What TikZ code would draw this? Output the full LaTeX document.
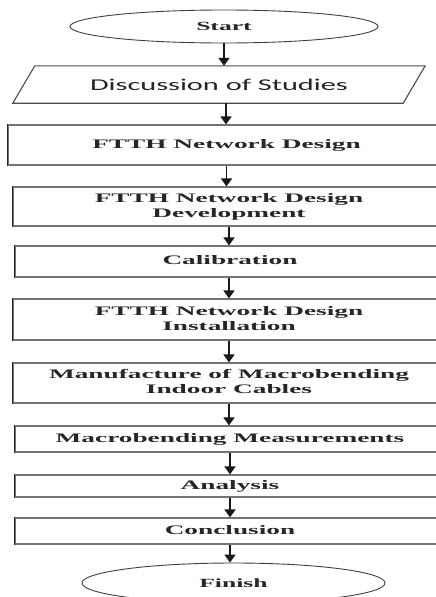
\documentclass[tikz,border=0pt]{standalone}
\usepackage{fontspec}
\usepackage{graphicx}
\setmainfont{Liberation Serif}
\newfontfamily\discfont{Carlito}
\usetikzlibrary{arrows.meta,shapes.geometric}
\newcommand\wt[1]{\scalebox{2.1}[1]{\fontsize{13}{15}\selectfont\bfseries\begin{tabular}{@{}c@{}}#1\end{tabular}}}
\newcommand\et[1]{\scalebox{2.05}[1]{\fontsize{12.5}{14}\selectfont\bfseries #1}}
\begin{document}
\begin{tikzpicture}[x=1pt,y=-1pt,
  box/.style={rectangle,draw=black!55,line width=1.2pt,inner sep=0pt,text=black!85},
  term/.style={ellipse,draw=black!75,line width=0.9pt,inner sep=0pt,text=black!85},
  arr/.style={black!90,line width=1.7pt,-{Triangle[width=11pt,length=8pt]}},
  leftedge/.style={black!85,line width=1.3pt}]
\useasboundingbox (0,0) rectangle (436,597);
\clip (0,0) rectangle (436,597);
\fill[white] (0,0) rectangle (436,597);

\node[term,minimum width=308pt,minimum height=33pt] (start) at (224,26.5) {\et{Start}};

\node[inner sep=0pt,minimum width=412pt,minimum height=37pt,text=black!85] (disc) at (219,84.5)
  {\scalebox{1.84}[1]{\fontsize{16.5}{18}\discfont Discussion of Studies}};
\draw[black!70,line width=1.1pt] (disc.south west) -- ([xshift=-22pt]disc.south east)
  -- (disc.north east) -- ([xshift=22pt]disc.north west) -- cycle;

\node[box,minimum width=437pt,minimum height=40pt] (design) at (226.5,145) {\wt{FTTH Network Design}};
\node[box,minimum width=432pt,minimum height=39pt] (dev) at (229,206.5) {\wt{FTTH Network Design\\Development}};
\node[box,minimum width=430pt,minimum height=31pt] (cal) at (230,261.5) {\wt{Calibration}};
\node[box,minimum width=432pt,minimum height=41pt] (inst) at (229,319.5) {\wt{FTTH Network Design\\Installation}};
\node[box,minimum width=432pt,minimum height=40pt] (manu) at (229,383) {\wt{Manufacture of Macrobending\\Indoor Cables}};
\node[box,minimum width=430pt,minimum height=26pt] (meas) at (230,439) {\wt{Macrobending Measurements}};
\node[box,minimum width=430pt,minimum height=22pt] (ana) at (230,486) {\wt{Analysis}};
\node[box,minimum width=430pt,minimum height=26pt] (conc) at (230,531) {\wt{Conclusion}};

\node[term,minimum width=303pt,minimum height=40pt] (finish) at (233.5,583) {\et{Finish}};

\foreach \n in {design,dev,cal,inst,manu,meas,ana,conc}
  \draw[leftedge] (\n.north west) -- (\n.south west);

\draw[arr] (start.south) -- (start.south |- disc.north);
\draw[arr] ([xshift=7pt]disc.south) -- ([xshift=7pt]disc.south |- design.north);
\draw[arr] (design.south) -- (design.south |- dev.north);
\draw[arr] (dev.south) -- (dev.south |- cal.north);
\draw[arr] (dev.south |- cal.south) -- (dev.south |- inst.north);
\draw[arr] (inst.south) -- (inst.south |- manu.north);
\draw[arr] (manu.south) -- (manu.south |- meas.north);
\draw[arr] (meas.south) -- (meas.south |- ana.north);
\draw[arr] (ana.south) -- (ana.south |- conc.north);
\draw[arr] (conc.south) -- (conc.south |- finish.north);
\end{tikzpicture}
\end{document}
